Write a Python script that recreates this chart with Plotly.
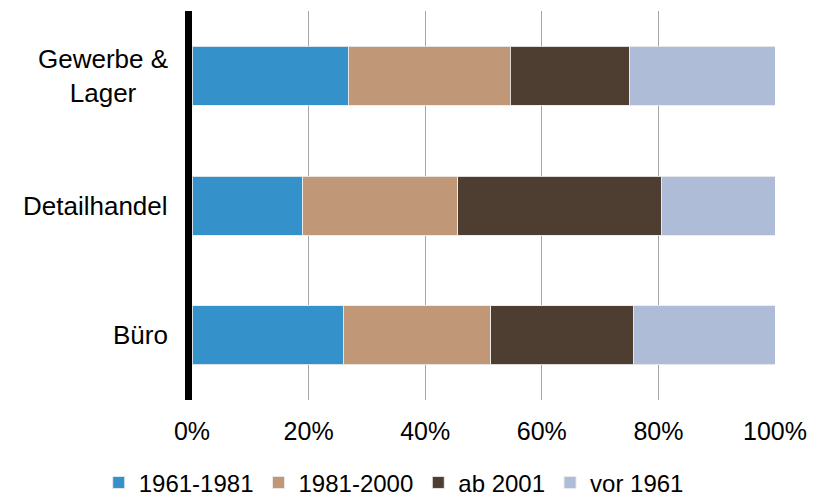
import plotly.graph_objects as go

# Building stock by construction period, share per use type (%)
categories = ["Gewerbe &<br>Lager", "Detailhandel", "Büro"]
series_names = ["1961-1981", "1981-2000", "ab 2001", "vor 1961"]
share_1961_1981 = [26.8, 19.0, 25.9]
share_1981_2000 = [27.8, 26.6, 25.3]
share_ab_2001 = [20.4, 34.9, 24.5]
share_vor_1961 = [25.0, 19.5, 24.3]
tick_values = [0, 20, 40, 60, 80, 100]
tick_labels = ["0%", "20%", "40%", "60%", "80%", "100%"]

colors = ["#3591C9", "#C09878", "#4E3D31", "#AEBCD7"]
series_values = [share_1961_1981, share_1981_2000, share_ab_2001, share_vor_1961]

font_family = "Liberation Sans, Arial, sans-serif"

fig = go.Figure()
for name, vals, col in zip(series_names, series_values, colors):
    fig.add_trace(go.Bar(
        y=categories,
        x=vals,
        name=name,
        orientation="h",
        marker=dict(color=col, line=dict(color="rgba(235,235,235,0.9)", width=1)),
    ))

# Category labels: right-aligned blocks left of the axis, lines centered
for cat in categories:
    fig.add_annotation(
        x=0, xref="paper", y=cat, yref="y",
        text=cat, showarrow=False,
        xanchor="right", yanchor="middle", align="center",
        xshift=-22,
        font=dict(family=font_family, size=26, color="#000000"),
    )

fig.update_layout(
    width=822, height=500,
    barmode="stack",
    bargap=0.545,
    plot_bgcolor="white",
    paper_bgcolor="white",
    margin=dict(l=192, r=47, t=11, b=100, autoexpand=False),
    font=dict(family=font_family, size=25, color="#000000"),
    showlegend=True,
    legend=dict(
        orientation="h",
        xref="paper", yref="paper",
        x=-0.16, xanchor="left",
        y=-0.213, yanchor="middle",
        font=dict(size=24, family=font_family, color="#000000"),
        traceorder="normal",
        itemwidth=30,
        tracegroupgap=0,
    ),
    xaxis=dict(
        range=[0, 100],
        tickvals=tick_values,
        ticktext=tick_labels,
        showgrid=True,
        gridcolor="#A6A6A6",
        gridwidth=1,
        zeroline=False,
        showline=False,
        ticks="",
        ticklabelstandoff=14,
        tickfont=dict(size=25, family=font_family, color="#000000"),
    ),
    yaxis=dict(
        categoryorder="array",
        categoryarray=categories[::-1],
        showticklabels=False,
        showgrid=False,
        zeroline=False,
        showline=True,
        linecolor="#000000",
        linewidth=7,
        ticks="",
    ),
)

fig.write_html("out.html")
